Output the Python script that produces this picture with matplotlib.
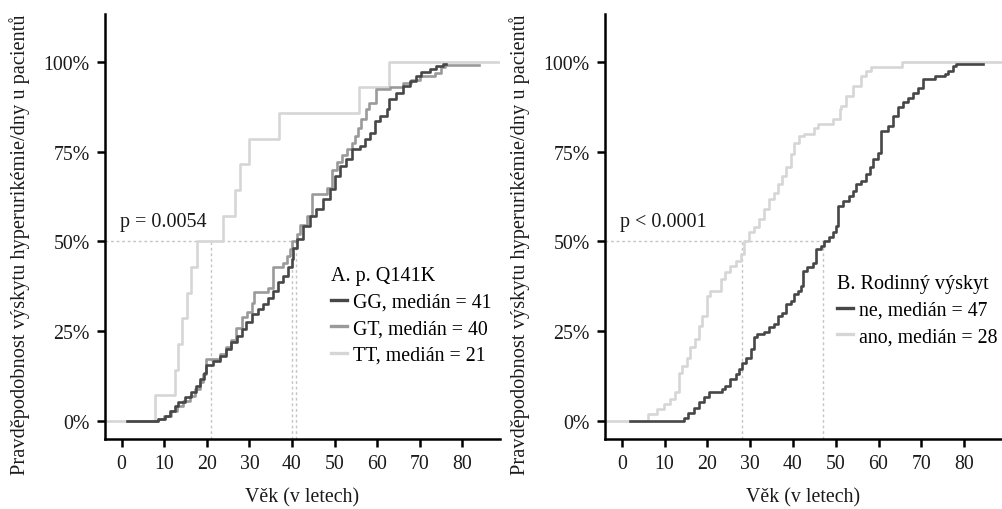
import matplotlib
matplotlib.use("Agg")
import matplotlib.pyplot as plt
from matplotlib.lines import Line2D

plt.rcParams['font.family'] = ['Liberation Serif', 'DejaVu Serif']

# panel A - p. Q141K (age, cumulative probability)
gg_t = [1.2, 8.5, 10.2, 11.3, 12.5, 13.3, 14.9, 16.4, 17.4, 18.4, 19.3, 19.9, 21.5, 23.1, 24.6,
        25.8, 27.0, 28.2, 29.3, 30.5, 32.0, 33.2, 34.4, 35.6, 36.7, 37.9, 39.1, 39.9, 40.3, 41.1,
        42.6, 44.2, 45.7, 47.3, 48.9, 50.0, 51.2, 52.8, 54.0, 55.9, 57.1, 58.3, 59.4, 60.6, 62.2,
        62.9, 64.5, 66.1, 67.6, 69.2, 70.4, 72.3, 73.9, 75.5, 76.2]
gg_p = [0.0, 0.005, 0.015, 0.029, 0.043, 0.054, 0.066, 0.08, 0.098, 0.117, 0.135, 0.155, 0.168, 0.182, 0.2,
        0.219, 0.237, 0.256, 0.275, 0.298, 0.312, 0.325, 0.344, 0.362, 0.386, 0.404, 0.428, 0.451, 0.483, 0.506,
        0.543, 0.571, 0.59, 0.618, 0.645, 0.682, 0.71, 0.729, 0.757, 0.766, 0.784, 0.803, 0.835, 0.849, 0.868,
        0.896, 0.914, 0.933, 0.947, 0.96, 0.972, 0.979, 0.988, 0.993, 0.993]

gt_t = [1.5, 8.5, 10.0, 11.5, 13.0, 14.5, 16.0, 17.2, 18.3, 19.2, 19.9, 23.1, 24.5, 25.6, 26.8,
        28.2, 29.5, 30.5, 31.2, 34.4, 35.6, 37.9, 38.8, 39.6, 40.1, 41.1, 42.0, 43.5, 44.6, 48.3,
        49.3, 50.5, 51.8, 53.0, 54.0, 54.8, 55.5, 56.2, 57.4, 58.2, 59.7, 63.0, 66.0, 68.0, 70.0,
        73.5, 75.0, 76.0, 84.0]
gt_p = [0.0, 0.005, 0.014, 0.028, 0.042, 0.056, 0.07, 0.09, 0.11, 0.13, 0.172, 0.186, 0.205, 0.225, 0.26,
        0.29, 0.305, 0.33, 0.358, 0.37, 0.428, 0.44, 0.46, 0.48, 0.5, 0.52, 0.545, 0.57, 0.631, 0.65,
        0.70, 0.72, 0.74, 0.757, 0.775, 0.794, 0.817, 0.84, 0.868, 0.885, 0.923, 0.93, 0.94, 0.95, 0.96,
        0.97, 0.985, 0.99, 0.99]

tt_t = [-4.0, 7.8, 12.5, 13.3, 14.1, 15.4, 16.4, 17.7, 23.8, 26.6, 27.8, 29.9, 37.0, 55.8, 62.8, 89.0]
tt_p = [0.0, 1/14, 2/14, 3/14, 4/14, 5/14, 6/14, 7/14, 8/14, 9/14, 10/14, 11/14, 12/14, 13/14, 1.0, 1.0]

# panel B - rodinny vyskyt
ne_t = [1.9, 14.5, 15.6, 16.8, 18.0, 19.2, 20.3, 23.5, 24.2, 25.4, 26.6, 27.4, 28.2, 29.0, 30.1,
        30.9, 31.7, 33.2, 34.4, 35.6, 36.4, 37.5, 38.3, 39.5, 40.3, 41.1, 41.9, 42.3, 43.4, 44.6,
        45.4, 46.6, 47.3, 48.5, 49.3, 50.0, 50.5, 51.6, 53.2, 54.0, 54.8, 55.9, 57.1, 57.9, 58.7,
        59.9, 60.6, 62.2, 63.4, 64.5, 65.7, 66.9, 68.1, 69.2, 70.4, 73.1, 75.5, 76.3, 77.4, 78.2, 84.4]
ne_p = [0.0, 0.01, 0.024, 0.038, 0.052, 0.066, 0.08, 0.089, 0.098, 0.117, 0.131, 0.145, 0.163, 0.177, 0.2,
        0.233, 0.242, 0.247, 0.261, 0.27, 0.293, 0.302, 0.325, 0.335, 0.353, 0.362, 0.376, 0.418, 0.428, 0.441,
        0.478, 0.488, 0.5, 0.511, 0.525, 0.543, 0.599, 0.613, 0.627, 0.641, 0.659, 0.668, 0.687, 0.706, 0.729,
        0.747, 0.808, 0.821, 0.849, 0.873, 0.887, 0.9, 0.914, 0.928, 0.951, 0.96, 0.965, 0.974, 0.988, 0.993, 0.993]

ano_t = [-4.0, 6.2, 8.2, 9.8, 11.3, 12.5, 13.3, 14.1, 15.3, 16.0, 17.2, 18.0, 18.8, 19.9, 20.7,
         23.1, 24.2, 25.4, 26.6, 27.8, 28.6, 29.8, 30.9, 32.1, 33.2, 34.4, 35.6, 36.4, 37.5, 38.5,
         39.5, 40.3, 41.4, 42.6, 45.0, 45.8, 49.3, 50.9, 51.3, 52.4, 54.0, 56.0, 57.1, 58.3, 65.5, 89.0]
ano_p = [0.0, 0.019, 0.033, 0.047, 0.061, 0.08, 0.135, 0.154, 0.177, 0.205, 0.228, 0.265, 0.293, 0.349, 0.362,
         0.395, 0.414, 0.432, 0.446, 0.465, 0.5, 0.525, 0.539, 0.562, 0.59, 0.617, 0.636, 0.659, 0.682, 0.706,
         0.743, 0.775, 0.794, 0.798, 0.817, 0.826, 0.84, 0.868, 0.877, 0.905, 0.933, 0.96, 0.974, 0.984, 1.0, 1.0]

medians_a = [41, 40, 21]
medians_b = [47, 28]

DARK = '#474747'
MID = '#9a9a9a'
LIGHT = '#d6d6d6'
REF = '#c4c4c4'
TXT = '#1a1a1a'

fig = plt.figure(figsize=(10.02, 5.10), dpi=100)
ax1 = fig.add_axes([0.1048, 0.137, 0.394, 0.833])
ax2 = fig.add_axes([0.6038, 0.137, 0.396, 0.833])


def style(ax):
    ax.set_xlim(-3.9, 88.8)
    ax.set_ylim(-0.05, 1.132)
    for s in ['top', 'right']:
        ax.spines[s].set_visible(False)
    for s in ['left', 'bottom']:
        ax.spines[s].set_linewidth(1.8)
        ax.spines[s].set_color('black')
    ax.set_xticks(range(0, 81, 10))
    ax.set_yticks([0, 0.25, 0.5, 0.75, 1.0])
    ax.set_yticklabels(['0%', '25%', '50%', '75%', '100%'])
    ax.tick_params(direction='out', length=6, width=1.8, labelsize=14.3, colors='black',
                   labelcolor=TXT, pad=5)
    ax.set_xlabel('Věk (v letech)', fontsize=14.3, color=TXT, labelpad=10)
    ax.set_ylabel('Pravděpodobnost výskytu hyperurikémie/dny u pacientů', fontsize=14.7,
                  color=TXT)
    ax.yaxis.set_label_coords(-0.19, 0.459)


def medlines(ax, meds):
    ax.plot([-3.9, max(meds)], [0.5, 0.5], color=REF, lw=1, ls=(0, (2, 2)), zorder=1)
    for m in meds:
        ax.plot([m, m], [-0.05, 0.5], color=REF, lw=1, ls=(0, (2, 2)), zorder=1)


style(ax1)
medlines(ax1, medians_a)
ax1.step(tt_t, tt_p, where='post', color=LIGHT, lw=1.9, zorder=2)
ax1.step(gt_t, gt_p, where='post', color=MID, lw=1.9, zorder=3)
ax1.step(gg_t, gg_p, where='post', color=DARK, lw=1.9, zorder=4)
ax1.text(-0.4, 0.556, 'p = 0.0054', fontsize=14.5, color=TXT, va='center', ha='left')
h1 = [Line2D([], [], color=DARK, lw=2.4), Line2D([], [], color=MID, lw=2.4),
      Line2D([], [], color=LIGHT, lw=2.4)]
lab1 = [f'GG, medián = {medians_a[0]}', f'GT, medián = {medians_a[1]}', f'TT, medián = {medians_a[2]}']
ax1.legend(h1, lab1, title='A. p. Q141K', loc='upper left', bbox_to_anchor=(0.572, 0.407),
           frameon=False, fontsize=14.3, title_fontsize=14.5, handlelength=0.8, handletextpad=0.3,
           labelspacing=0.38, borderpad=0, borderaxespad=0, alignment='left')

style(ax2)
medlines(ax2, medians_b)
ax2.step(ano_t, ano_p, where='post', color=LIGHT, lw=1.9, zorder=2)
ax2.step(ne_t, ne_p, where='post', color=DARK, lw=1.9, zorder=4)
ax2.text(-0.4, 0.556, 'p < 0.0001', fontsize=14.5, color=TXT, va='center', ha='left')
h2 = [Line2D([], [], color=DARK, lw=2.4), Line2D([], [], color=LIGHT, lw=2.4)]
lab2 = [f'ne, medián = {medians_b[0]}', f'ano, medián = {medians_b[1]}']
ax2.legend(h2, lab2, title='B. Rodinný výskyt', loc='upper left', bbox_to_anchor=(0.585, 0.388),
           frameon=False, fontsize=14.3, title_fontsize=14.5, handlelength=0.8, handletextpad=0.3,
           labelspacing=0.38, borderpad=0, borderaxespad=0, alignment='left')

fig.savefig('out.png', dpi=100)
